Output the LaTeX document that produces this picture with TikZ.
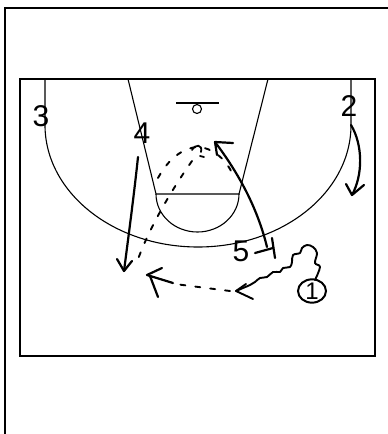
\documentclass[tikz,border=0pt]{standalone}
\usepackage{fontspec}
\setmainfont{Liberation Sans}
\usetikzlibrary{shapes.geometric}
\begin{document}
\begin{tikzpicture}[x=1pt,y=-1pt,
  court/.style={line width=1.1pt},
  framebox/.style={line width=2pt},
  hand/.style={line width=2.2pt, line cap=round, line join=round},
  passline/.style={line width=1.9pt, line cap=round, dash pattern=on 5pt off 10pt},
  num/.style={font=\fontsize{30}{30}\selectfont, inner sep=0pt}]
\useasboundingbox (0,0) rectangle (388,434);
\fill[white] (0,0) rectangle (388,434);
% outer frame
\draw[framebox] (5,434) -- (5,8) -- (388,8);
% court
\draw[framebox] (20,79) rectangle (375,356);
\draw[court] (45,79) -- (45,125) arc[start angle=180, end angle=0, x radius=153, y radius=122] -- (351,79);
\draw[court] (128,79) -- (156,194) -- (239,194) -- (268,79);
\draw[court] (156,194) arc[start angle=180, end angle=0, x radius=41.5, y radius=38];
\draw[court] (176,103) -- (219,103);
\draw[court] (197,109) circle[radius=4.5];
% players
\node[num] (p3) at (41,116) {3};
\node[num] (p2) at (349,106) {2};
\node[num] (p4) at (142,133) {4};
\node[num] (p5) at (241,251) {5};
\node[draw, ellipse, line width=2pt, minimum width=28pt, minimum height=22pt, inner sep=0pt,
      font=\fontsize{24}{24}\selectfont] (p1) at (312,291) {1};
% coordinates
\coordinate (c4s) at (138,157);
\coordinate (c4e) at (124,271);
\coordinate (c5s) at (267,247);
\coordinate (c5e) at (215,142);
\coordinate (c2s) at (351,125);
\coordinate (c2e) at (352,195);
\coordinate (dre) at (236,291);
\coordinate (pe) at (147,275);
% cut of 4
\draw[hand] (c4s) .. controls (134,195) and (128,240) .. (c4e);
\draw[hand] (117,259) -- (c4e) -- (132,261);
% cut of 5
\draw[hand] (c5s) .. controls (258,210) and (240,175) .. (c5e);
\draw[hand] (233,143) -- (c5e) -- (217,155);
\draw[hand] (255,253) -- (273,248);
\draw[hand] (272,238) -- (275,258);
% cut of 2
\draw[hand] (c2s) .. controls (363,145) and (363,175) .. (c2e);
\draw[hand] (346,184) -- (c2e) -- (364,185);
% dribble of 1
\draw[hand, line width=1.9pt] plot[smooth, tension=0.6] coordinates {
 (315,280) (320,267) (315,263) (317,253) (313,247) (307,245) (302,248) (300,253)
 (293,255) (292,262) (290,267) (283,268) (280,272) (273,272) (267,277) (260,278)
 (255,282) (250,285) (243,288) (236,291)};
\draw[hand, line width=1.9pt] (246,284) -- (dre) -- (253,299);
% pass
\draw[passline] (230,291) -- (175,284);
\draw[hand] (173,283) -- (pe);
\draw[hand] (162,268) -- (pe);
\draw[hand] (150,276) -- (158,297);
% dashed lines
\draw[passline] (158,178) .. controls (170,156) and (185,148) .. (197,147) .. controls (212,147) and (228,160) .. (234,178);
\draw[passline] (192,161) .. controls (175,185) and (150,225) .. (137,262);
\draw[hand, line width=1.8pt] (192,150) .. controls (195,144) and (203,144) .. (201,152);
\draw[hand, line width=1.8pt] (200,156) -- (204,157);
\end{tikzpicture}
\end{document}
